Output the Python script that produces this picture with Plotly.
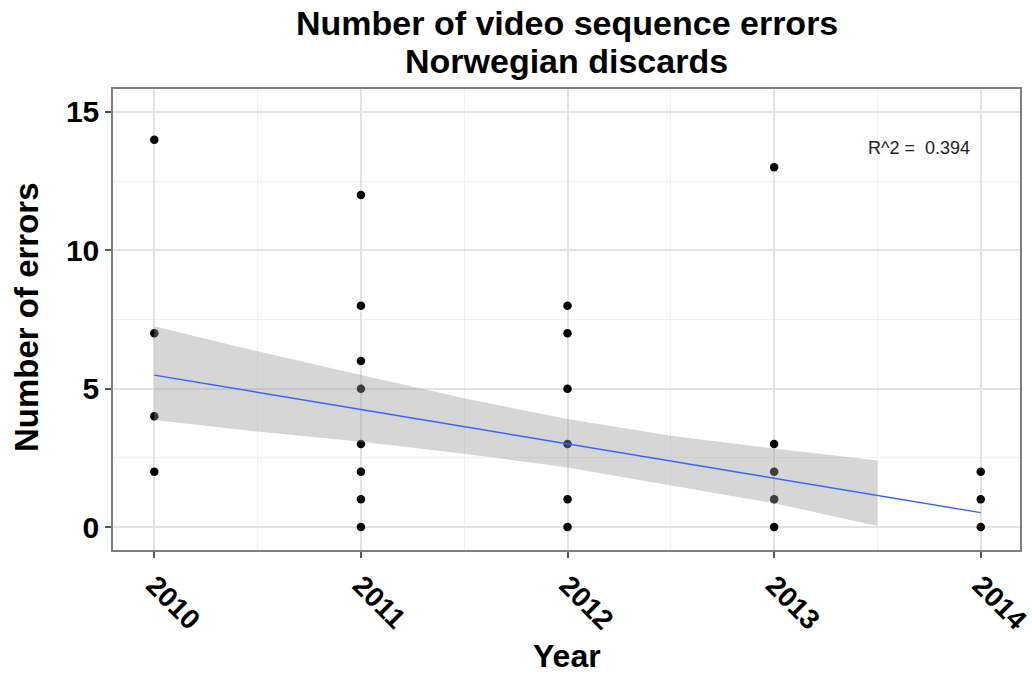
import plotly.graph_objects as go

# Observed error counts per year
years_2010 = [2010, 2010, 2010, 2010]
errors_2010 = [14, 7, 4, 2]
years_2011 = [2011] * 8
errors_2011 = [12, 8, 6, 5, 3, 2, 1, 0]
years_2012 = [2012] * 6
errors_2012 = [8, 7, 5, 3, 1, 0]
years_2013 = [2013] * 5
errors_2013 = [13, 3, 2, 1, 0]
years_2014 = [2014] * 3
errors_2014 = [2, 1, 0]

point_x = years_2010 + years_2011 + years_2012 + years_2013 + years_2014
point_y = errors_2010 + errors_2011 + errors_2012 + errors_2013 + errors_2014

# Linear fit and its confidence band
fit_x = [2010, 2011, 2012, 2013, 2014]
fit_y = [5.49, 4.25, 3.01, 1.78, 0.52]
band_x = [2010, 2010.5, 2011, 2011.5, 2012, 2012.5, 2013, 2013.5]
band_upper = [7.26, 6.35, 5.49, 4.65, 3.90, 3.30, 2.84, 2.40]
band_lower = [3.87, 3.45, 3.08, 2.65, 2.15, 1.50, 0.86, 0.04]

r2_text = "R^2 =  0.394"
title_lines = ["Number of video sequence errors", "Norwegian discards"]
x_label = "Year"
y_label = "Number of errors"
x_ticks = [2010, 2011, 2012, 2013, 2014]
y_ticks = [0, 5, 10, 15]

FONT = "Liberation Sans, Arial, sans-serif"

fig = go.Figure()

fig.add_trace(go.Scatter(
    x=point_x, y=point_y, mode="markers",
    marker=dict(color="black", size=8.5),
    hoverinfo="skip", showlegend=False,
))

fig.add_trace(go.Scatter(
    x=band_x + band_x[::-1],
    y=band_upper + band_lower[::-1],
    mode="lines", fill="toself",
    fillcolor="rgba(153,153,153,0.4)",
    line=dict(width=0),
    hoverinfo="skip", showlegend=False,
))

fig.add_trace(go.Scatter(
    x=fit_x, y=fit_y, mode="lines",
    line=dict(color="#3366FF", width=1.4),
    hoverinfo="skip", showlegend=False,
))

fig.add_annotation(
    x=2013.7, y=13.7, xref="x", yref="y",
    text=r2_text, showarrow=False,
    font=dict(family=FONT, size=18, color="#222222"),
)

# Two-line bold title
for text, ypix in zip(title_lines, [23, 61]):
    fig.add_annotation(
        x=0.5, y=(550 - ypix) / 461, xref="paper", yref="paper",
        text=f"<b>{text}</b>", showarrow=False,
        xanchor="center", yanchor="middle",
        font=dict(family=FONT, size=34, color="black"),
    )

# Axis titles
fig.add_annotation(
    x=0.5, y=(550 - 656) / 461, xref="paper", yref="paper",
    text=f"<b>{x_label}</b>", showarrow=False,
    xanchor="center", yanchor="middle",
    font=dict(family=FONT, size=32, color="black"),
)
fig.add_annotation(
    x=(26 - 113) / 907, y=(550 - 317) / 461, xref="paper", yref="paper",
    text=f"<b>{y_label}</b>", showarrow=False, textangle=-90,
    xanchor="center", yanchor="middle",
    font=dict(family=FONT, size=33, color="black"),
)

axis_common = dict(
    showline=True, linecolor="#7f7f7f", linewidth=1.5, mirror=True,
    ticks="outside", ticklen=6, tickcolor="#555555", tickwidth=1.5,
    showgrid=True, gridcolor="#e3e3e3", gridwidth=1.5,
    zeroline=False, automargin=False,
)

fig.update_xaxes(
    **axis_common,
    range=[2009.8, 2014.19],
    tickvals=x_ticks, ticktext=[str(v) for v in x_ticks],
    tickangle=45,
    ticklabeloverflow="allow",
    tickfont=dict(family=FONT, size=28, color="black", weight="bold"),
    minor=dict(dtick=0.5, tick0=2010, showgrid=True, gridcolor="#f1f1f1", gridwidth=1, ticks=""),
)
fig.update_yaxes(
    **axis_common,
    range=[-0.83, 15.83],
    tickvals=y_ticks,
    tickfont=dict(family=FONT, size=30, color="black", weight="bold"),
    minor=dict(dtick=2.5, tick0=0, showgrid=True, gridcolor="#f1f1f1", gridwidth=1, ticks=""),
)

fig.update_layout(
    width=1032, height=677,
    margin=dict(l=113, r=12, t=89, b=127),
    plot_bgcolor="white", paper_bgcolor="white",
    showlegend=False,
)

fig.write_html("out.html")
